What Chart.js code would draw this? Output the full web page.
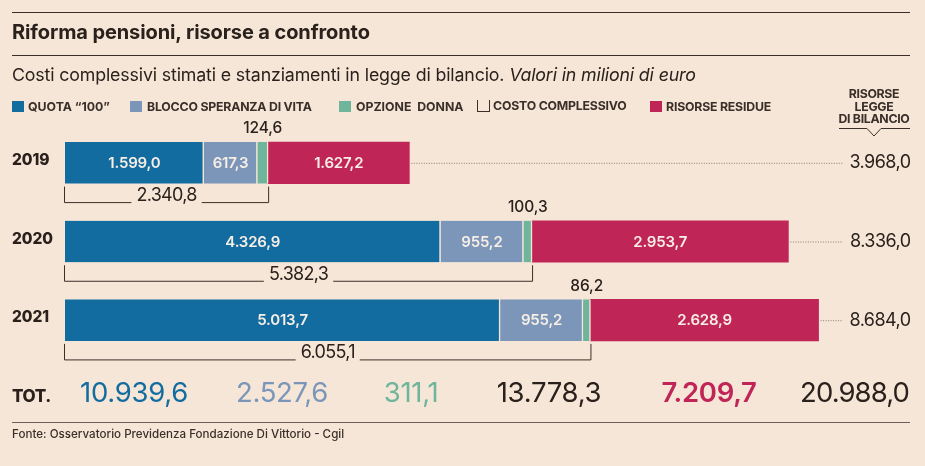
<!DOCTYPE html>
<html lang="it">
<head>
<meta charset="utf-8">
<title>Riforma pensioni, risorse a confronto</title>
<script src="https://cdn.jsdelivr.net/npm/chart.js@4"></script>
<style>
  html, body { margin: 0; padding: 0; background: #f5e6d8; }
  body { width: 925px; height: 466px; position: relative; overflow: hidden; font-family: Inter, sans-serif; color: #2b211c; }
  canvas { position: absolute; left: 0; top: 0; }
  .rule { position: absolute; left: 12px; width: 898px; height: 1px; background: #3a2f29; }
  .txt { position: absolute; white-space: nowrap; }
  #title { left: 12px; top: 20px; font-size: 20px; font-weight: 700; line-height: 24px; letter-spacing: -0.1px; }
  #subtitle { left: 12px; top: 64px; font-size: 17.8px; line-height: 22px; letter-spacing: -0.15px; }
  #subtitle i { font-weight: 400; }
  .leg { top: 99px; font-size: 12.3px; font-weight: 700; line-height: 15px; letter-spacing: -0.2px; color: #3a2f29; }
  .swatch { position: absolute; top: 101px; width: 12px; height: 11px; }
  #bracketKey { position: absolute; left: 477px; top: 100px; width: 11px; height: 11px; border: 1px solid #3a2f29; border-top: 0; }
  #risorse { left: 834px; width: 80px; top: 88px; text-align: center; font-size: 12.3px; font-weight: 700; line-height: 12.5px; letter-spacing: -0.3px; color: #3a2f29; }
  #fonte { left: 12px; top: 427px; font-size: 11.6px; line-height: 14px; font-weight: 500; color: #3a2f29; }
</style>
</head>
<body>
<canvas id="chart" width="925" height="466"></canvas>
<div class="rule" style="top:12px"></div>
<div class="rule" style="top:55px"></div>
<div class="rule" style="top:422px;background:#6b5f57"></div>
<div class="txt" id="title">Riforma pensioni, risorse a confronto</div>
<div class="txt" id="subtitle">Costi complessivi stimati e stanziamenti in legge di bilancio. <i>Valori in milioni di euro</i></div>

<div class="swatch" style="left:12px;background:#136ca0"></div>
<div class="txt leg" style="left:28px;letter-spacing:0">QUOTA “100”</div>
<div class="swatch" style="left:130px;background:#7b96b8"></div>
<div class="txt leg" style="left:147px">BLOCCO SPERANZA DI VITA</div>
<div class="swatch" style="left:339px;background:#6fb59c"></div>
<div class="txt leg" style="left:356px;letter-spacing:0">OPZIONE&nbsp; DONNA</div>
<div id="bracketKey"></div>
<div class="txt leg" style="left:493px;top:98px">COSTO COMPLESSIVO</div>
<div class="swatch" style="left:650px;background:#c02558"></div>
<div class="txt leg" style="left:666px">RISORSE RESIDUE</div>
<div class="txt" id="risorse">RISORSE<br>LEGGE<br>DI BILANCIO</div>
<div class="txt" id="fonte">Fonte: Osservatorio Previdenza Fondazione Di Vittorio - Cgil</div>

<script>
// Valori in milioni di euro
const years = ["2019", "2020", "2021"];
const quota100 = [1599.0, 4326.9, 5013.7];
const bloccoSperanza = [617.3, 955.2, 955.2];
const opzioneDonna = [124.6, 100.3, 86.2];
const risorseResidue = [1627.2, 2953.7, 2628.9];
const costoComplessivo = [2340.8, 5382.3, 6055.1];
const risorseLegge = [3968.0, 8336.0, 8684.0];

const totLabels = ["10.939,6", "2.527,6", "311,1", "13.778,3", "7.209,7", "20.988,0"];
const totColors = ["#136ca0", "#7b96b8", "#6fb59c", "#2b211c", "#c02558", "#2b211c"];
const totCenters = [134, 282, 411, 549, 709, 854.5];

const BG = "#f5e6d8";
const INK = "#2b211c";
const FONT = "Inter, sans-serif";

// formato italiano: 1.599,0
function fmt(v) {
    const parts = v.toFixed(1).split(".");
    return parts[0].replace(/\B(?=(\d{3})+$)/g, ".") + "," + parts[1];
}

function text(ctx, str, x, y, font, color, align, spacing) {
    ctx.font = font;
    ctx.fillStyle = color;
    ctx.textAlign = align || "center";
    ctx.textBaseline = "middle";
    ctx.letterSpacing = spacing || "0px";
    ctx.fillText(str, x, y);
    ctx.letterSpacing = "0px";
}

const annotations = {
    id: "annotations",
    afterDatasetsDraw(chart) {
        const ctx = chart.ctx;
        const xs = chart.scales.x;
        const ys = chart.scales.y;
        ctx.save();

        years.forEach((year, i) => {
            const bar = chart.getDatasetMeta(0).data[i];
            const top = bar.y - bar.height / 2;
            const bottom = bar.y + bar.height / 2;

            // anno a sinistra, un po' sopra il centro della barra
            text(ctx, year, 12, ys.getPixelForValue(i) - 2.5, "800 15.5px " + FONT, INK, "left", "-0.1px");

            // valori dentro le barre
            [0, 1, 3].forEach(d => {
                const el = chart.getDatasetMeta(d).data[i];
                const val = chart.data.datasets[d].data[i];
                text(ctx, fmt(val), (el.base + el.x) / 2, el.y + 0.5, "600 15px " + FONT, "#f7eee6", "center", "-0.2px");
            });

            // opzione donna sopra la barra
            const green = chart.getDatasetMeta(2).data[i];
            text(ctx, fmt(opzioneDonna[i]), (green.base + green.x) / 2, top - 13.5, "500 15.5px " + FONT, INK, "center", "-0.1px");

            // parentesi costo complessivo
            const x0 = xs.getPixelForValue(0);
            const x1 = xs.getPixelForValue(costoComplessivo[i]);
            const yLine = bottom + 19;
            const label = fmt(costoComplessivo[i]);
            const mid = (x0 + x1) / 2;
            const font = "400 18px " + FONT;
            ctx.font = font;
            ctx.letterSpacing = "-0.7px";
            const half = ctx.measureText(label).width / 2 + 5;
            ctx.letterSpacing = "0px";
            ctx.strokeStyle = "#3a2f29";
            ctx.lineWidth = 1;
            ctx.beginPath();
            ctx.moveTo(x0 - 0.5, bottom + 3);
            ctx.lineTo(x0 - 0.5, yLine);
            ctx.lineTo(mid - half, yLine);
            ctx.moveTo(mid + half, yLine);
            ctx.lineTo(x1 + 0.5, yLine);
            ctx.lineTo(x1 + 0.5, bottom + 3);
            ctx.stroke();
            text(ctx, label, mid, bottom + 12, font, INK, "center", "-0.7px");

            // puntini verso il totale legge di bilancio
            const xEnd = xs.getPixelForValue(risorseLegge[i]);
            ctx.strokeStyle = "#8a7d74";
            ctx.setLineDash([1, 1.5]);
            ctx.beginPath();
            ctx.moveTo(xEnd + 2, bar.y + 0.5);
            ctx.lineTo(843, bar.y + 0.5);
            ctx.stroke();
            ctx.setLineDash([]);
            text(ctx, fmt(risorseLegge[i]), 910.5, bar.y, "400 18px " + FONT, INK, "right", "-0.55px");
        });

        // freccia intestazione
        ctx.strokeStyle = "#3a2f29";
        ctx.lineWidth = 1;
        ctx.beginPath();
        ctx.moveTo(839, 128.5);
        ctx.lineTo(867, 128.5);
        ctx.lineTo(874, 136);
        ctx.lineTo(881, 128.5);
        ctx.lineTo(910, 128.5);
        ctx.stroke();

        // riga dei totali
        text(ctx, "TOT.", 12, 397, "800 17px " + FONT, INK, "left", "-0.4px");
        totLabels.forEach((label, i) => {
            text(ctx, label, totCenters[i], 394, (i === 4 ? "600" : "400") + " 27.5px " + FONT, totColors[i], "center", i === 5 ? "-0.9px" : "-0.3px");
        });

        ctx.restore();
    }
};

function seg(label, data, color, last) {
    return {
        label: label,
        data: data,
        backgroundColor: color,
        borderColor: BG,
        borderWidth: last ? 0 : { right: 1.5, left: 0, top: 0, bottom: 0 },
        borderSkipped: false,
        barThickness: 41.5
    };
}

new Chart(document.getElementById("chart"), {
    type: "bar",
    data: {
        labels: years,
        datasets: [
            seg("Quota 100", quota100, "#136ca0"),
            seg("Blocco speranza di vita", bloccoSperanza, "#7b96b8"),
            seg("Opzione donna", opzioneDonna, "#6fb59c"),
            seg("Risorse residue", risorseResidue, "#c02558", true)
        ]
    },
    options: {
        indexAxis: "y",
        responsive: false,
        animation: false,
        layout: { padding: { left: 65, right: 79, top: 123.5, bottom: 106.5 } },
        plugins: {
            legend: { display: false },
            tooltip: { enabled: false }
        },
        scales: {
            x: { stacked: true, display: false, min: 0, max: 9000 },
            y: { stacked: true, display: false }
        }
    },
    plugins: [annotations]
});
</script>
</body>
</html>
